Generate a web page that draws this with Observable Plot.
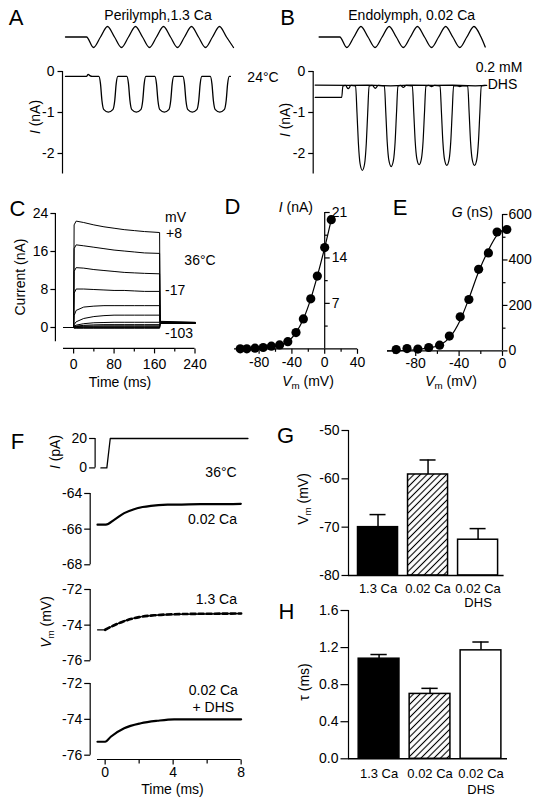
<!DOCTYPE html>
<html>
<head>
<meta charset="utf-8">
<script src="https://cdn.jsdelivr.net/npm/d3@7"></script>
<script src="https://cdn.jsdelivr.net/npm/@observablehq/plot@0.6"></script>
<style>
  body { margin: 0; background: #fff; }
  #fig { position: relative; width: 540px; height: 803px; overflow: hidden; background: #fff;
         font-family: "Liberation Sans", Arial, sans-serif; color: #000; }
  .lbl { position: absolute; white-space: nowrap; line-height: 1; }
  .lbl sub { font-size: 70%; vertical-align: baseline; position: relative; top: 0.3em; line-height: 0; }
</style>
</head>
<body>
<svg width="0" height="0" style="position:absolute">
  <defs>
    <pattern id="hatch" patternUnits="userSpaceOnUse" width="4.6" height="4.6" patternTransform="rotate(45)">
      <rect width="4.6" height="4.6" fill="white"></rect>
      <line x1="2.3" y1="0" x2="2.3" y2="4.6" stroke="black" stroke-width="1.1"></line>
    </pattern>
  </defs>
</svg>
<div id="fig"></div>
<script>
// ---------------- DATA ----------------
// Panel A / B : sinusoidal stimulus (time in stimulus cycles)
const stimT = [-0.75, 0, 0.25, 0.5, 0.75, 1, 1.25, 1.5, 1.75, 2, 2.25, 2.5, 2.75, 3, 3.25, 3.5, 3.75, 4, 4.25, 4.5, 4.75, 5, 5.25];
const stimV = [0, 0, -1, 0, 1, 0, -1, 0, 1, 0, -1, 0, 1, 0, -1, 0, 1, 0, -1, 0, 1, 0, -1];
const stimTB = [-0.73, 0, 0.25, 0.5, 0.75, 1, 1.25, 1.5, 1.75, 2, 2.25, 2.5, 2.75, 3, 3.25, 3.5, 3.75, 4, 4.25, 4.5, 4.75, 5, 5.15];
const stimVB = [0, 0, -1, 0, 1, 0, -1, 0, 1, 0, -1, 0, 1, 0, -1, 0, 1, 0, -1, 0, 1, 0, -0.95];
// Panel A: transducer current (nA), perilymph
const currA = [
 [-0.75,-0.12],[0,-0.12],[0.06,-0.07],[0.12,-0.1],[0.2,-0.12],
 [0.44,-0.12],[0.5,-0.3],[0.55,-0.7],[0.62,-0.93],[0.78,-0.99],[0.94,-0.93],[1.01,-0.7],[1.06,-0.3],[1.12,-0.12],
 [1.44,-0.12],[1.5,-0.3],[1.55,-0.7],[1.62,-0.93],[1.78,-0.99],[1.94,-0.93],[2.01,-0.7],[2.06,-0.3],[2.12,-0.12],
 [2.44,-0.12],[2.5,-0.3],[2.55,-0.7],[2.62,-0.93],[2.78,-0.99],[2.94,-0.93],[3.01,-0.7],[3.06,-0.3],[3.12,-0.12],
 [3.44,-0.12],[3.5,-0.3],[3.55,-0.7],[3.62,-0.93],[3.78,-0.99],[3.94,-0.93],[4.01,-0.7],[4.06,-0.3],[4.12,-0.12],
 [4.42,-0.12],[4.48,-0.3],[4.53,-0.7],[4.6,-0.93],[4.76,-0.99],[4.92,-0.93],[4.99,-0.7],[5.04,-0.3],[5.1,-0.12],[5.14,-0.12]
];
// Panel B: endolymph control current and with 0.2 mM DHS (nA)
const ctrlB = [
 [-0.87,-0.63],[0.07,-0.63],[0.11,-0.36],[0.2,-0.34],[0.3,-0.42],[0.4,-0.34],
 [0.56,-0.35],[0.61,-1.0],[0.66,-1.75],[0.72,-2.25],[0.8,-2.41],[0.88,-2.25],[0.94,-1.75],[0.99,-1.0],[1.04,-0.35],
 [1.15,-0.34],[1.26,-0.41],[1.36,-0.34],
 [1.58,-0.35],[1.63,-1.0],[1.68,-1.72],[1.74,-2.17],[1.82,-2.32],[1.9,-2.17],[1.96,-1.72],[2.01,-1.0],[2.06,-0.35],
 [2.15,-0.34],[2.25,-0.39],[2.35,-0.34],
 [2.57,-0.35],[2.62,-1.0],[2.67,-1.7],[2.73,-2.13],[2.81,-2.27],[2.89,-2.13],[2.95,-1.7],[3.0,-1.0],[3.05,-0.35],
 [3.15,-0.34],[3.25,-0.37],[3.35,-0.34],
 [3.55,-0.35],[3.6,-1.0],[3.65,-1.71],[3.71,-2.15],[3.79,-2.29],[3.87,-2.15],[3.93,-1.71],[3.98,-1.0],[4.03,-0.35],
 [4.15,-0.35],[4.25,-0.37],[4.35,-0.35],
 [4.53,-0.35],[4.58,-1.0],[4.63,-1.71],[4.69,-2.15],[4.77,-2.29],[4.85,-2.15],[4.91,-1.71],[4.96,-1.0],[5.01,-0.35],
 [5.15,-0.34]
];
const dhsB = [[-0.87,-0.33],[0.3,-0.34],[1.0,-0.33],[1.8,-0.35],[2.5,-0.33],[3.3,-0.34],[4.0,-0.33],[4.8,-0.35],[5.2,-0.34]];
const ticksAB = [0, -1, -2];

// Panel C: voltage-step currents
const cVolt = [8, 0, -9, -17, -26, -35, -45, -55, -65, -75, -85, -95, -103];
const cT = [-20, 0, 1, 5, 20, 40, 60, 80, 100, 120, 140, 170, 171, 240];
const cI = [
 [0,0,21.6,22.4,22.1,21.6,21.2,20.9,20.6,20.4,20.2,20.0,1.3,1.1],
 [0,0,16.6,17.4,17.2,16.9,16.6,16.3,16.1,15.9,15.7,15.6,1.2,1.05],
 [0,0,11.8,12.6,12.5,12.2,12.0,11.8,11.6,11.5,11.4,11.3,1.1,1.0],
 [0,0,7.2,8.1,8.1,8.0,7.9,7.8,7.8,7.7,7.6,7.6,1.05,1.0],
 [0,0,2.5,3.6,4.3,4.5,4.6,4.6,4.6,4.6,4.6,4.6,1.0,0.95],
 [0,0,0.6,1.2,1.9,2.3,2.5,2.6,2.6,2.6,2.6,2.6,0.95,0.95],
 [0,0,0.3,0.5,0.8,1.0,1.05,1.1,1.1,1.1,1.1,1.1,0.9,0.9],
 [0,0,0.2,0.3,0.45,0.55,0.6,0.6,0.6,0.6,0.6,0.6,0.9,0.9],
 [0,0,0.1,0.2,0.3,0.32,0.35,0.35,0.35,0.35,0.35,0.35,0.85,0.9],
 [0,0,0.05,0.1,0.15,0.15,0.15,0.15,0.15,0.15,0.15,0.15,0.85,0.9],
 [0,0,0,0,0.05,0.05,0.05,0.05,0.05,0.05,0.05,0.05,0.85,0.9],
 [0,0,-0.05,-0.05,-0.05,-0.05,-0.05,-0.05,-0.05,-0.05,-0.05,-0.05,0.85,0.9],
 [0,0,-0.15,-0.15,-0.15,-0.15,-0.15,-0.15,-0.15,-0.15,-0.15,-0.15,0.85,0.9]
];
const cTicksY = [0, 8, 16, 24];
const cTicksX = [0, 80, 160, 240];
const cMinorX = [40, 120, 200];

// Panel D: I-V relation
const dV = [-103, -95, -85, -75, -65, -55, -45, -35, -26, -17, -9, 0, 8];
const dI = [0, 0, 0.1, 0.2, 0.4, 0.6, 1.1, 2.5, 4.6, 7.7, 11.2, 15.6, 19.9];
const dTicksY = [7, 14, 21];
const dMinorY = [3.5, 10.5, 17.5];
const dTicksX = [-80, -40, 0, 40];
const dMinorX = [-60, -20, 20];

// Panel E: conductance-voltage relation and Boltzmann fit
const eV = [-98, -88, -78, -68, -58, -49, -39, -31, -22, -13, -5, 4];
const eG = [6, 10, 8, 15, 25, 65, 150, 226, 359, 431, 523, 534];
const fitV = [-106, -80, -68, -58, -49, -39, -31, -22, -13, -5, 0];
const fitG = [0, 5, 13, 25, 57, 135, 230, 348, 443, 509, 531];
const eTicksY = [0, 200, 400, 600];
const eMinorY = [100, 300, 500];
const eTicksX = [-80, -40, 0];
const eMinorX = [-100, -60, -20];

// Panel F: current step and voltage responses (time in ms)
const fStim = [[-0.25,0],[0.1,0],[0.3,20],[8.4,20]];
const fLowCa = [[-0.45,-65.75],[0.04,-65.75],[0.53,-65.48],[1.12,-65.1],[1.7,-64.88],[2.2,-64.76],[2.69,-64.69],[3.67,-64.63],[4.5,-64.62],[5.6,-64.6],[6.5,-64.6],[7.98,-64.58]];
const fHighCa = [[-0.45,-74.26],[0,-74.26],[0.33,-74.1],[1.12,-73.76],[2.1,-73.53],[3.67,-73.42],[5.63,-73.38],[7.98,-73.35]];
const fHighCaFit = [[0,-74.26],[0.5,-74.02],[1,-73.82],[1.5,-73.66],[2,-73.55],[3,-73.44],[4,-73.39],[5,-73.37],[6,-73.36],[8,-73.35]];
const fDHS = [[-0.45,-75.25],[0,-75.25],[0.33,-74.97],[1.12,-74.5],[2.1,-74.22],[3.08,-74.08],[4.06,-74.0],[6.0,-74.0],[8,-74.0]];
const fStimTicks = [0, 20];
const f1Ticks = [-64, -66, -68];
const f2Ticks = [-72, -74, -76];
const fTimeTicks = [0, 4, 8];
const fTimeMinor = [2, 6];

// Panels G / H: bar charts
const barLine1 = ["1.3 Ca", "0.02 Ca", "0.02 Ca"];
const barLine2 = ["", "", "DHS"];
const barFill = ["black", "url(#hatch)", "white"];
const gVm = [-70.0, -59.1, -72.6];
const gErr = [2.6, 3.0, 2.3];
const gTicks = [-50, -60, -70, -80];
const hTau = [1.08, 0.70, 1.17];
const hErr = [0.045, 0.06, 0.09];
const hTicks = [0, 0.4, 0.8, 1.2, 1.6];

// ---------------- HELPERS ----------------
const fig = document.getElementById("fig");
const K = "#000";
const FONT = '"Liberation Sans", Arial, sans-serif';
const sym = (dx, dy) => ({draw(c) { c.moveTo(0, 0); c.lineTo(dx, dy); }});
const pts = (xs, ys) => xs.map((x, i) => [x, ys[i]]);

function panel(xd, xr, yd, yr, marks) {
  const M = 70;
  const [x0, x1] = xr, [yt, yb] = yr;
  const svg = Plot.plot({
    width: x1 - x0 + 2 * M, height: yb - yt + 2 * M,
    marginLeft: M, marginRight: M, marginTop: M, marginBottom: M,
    x: {domain: xd, axis: null},
    y: {domain: yd, axis: null},
    style: {position: "absolute", left: (x0 - M) + "px", top: (yt - M) + "px",
            background: "transparent", overflow: "visible", fontFamily: FONT,
            fontSize: "14px", color: "#000", maxWidth: "none"},
    marks
  });
  fig.appendChild(svg);
}

function yAxis(at, lo, hi, ticks, o = {}) {
  const len = o.len ?? -5, sw = o.sw ?? 1.2;
  const m = [
    Plot.ruleX([at], {y1: lo, y2: hi, stroke: K, strokeWidth: sw}),
    Plot.dot(ticks, {x: at, y: d => d, symbol: sym(len, 0), stroke: K, fill: "none", strokeWidth: sw})
  ];
  if (o.minor) m.push(Plot.dot(o.minor, {x: at, y: d => d, symbol: sym(o.mlen ?? Math.round(len * 0.6), 0), stroke: K, fill: "none", strokeWidth: sw}));
  if (o.labels !== false) m.push(Plot.text(ticks, {x: at, y: d => d, text: o.fmt ?? (d => String(d)),
      dx: o.dx ?? (len < 0 ? len - 3 : len + 3), textAnchor: len < 0 ? "end" : "start", fontSize: o.fs ?? 14}));
  return m;
}

function xAxis(at, lo, hi, ticks, o = {}) {
  const len = o.len ?? 5, sw = o.sw ?? 1.2;
  const m = [
    Plot.ruleY([at], {x1: lo, x2: hi, stroke: K, strokeWidth: sw}),
    Plot.dot(ticks, {x: d => d, y: at, symbol: sym(0, len), stroke: K, fill: "none", strokeWidth: sw})
  ];
  if (o.minor) m.push(Plot.dot(o.minor, {x: d => d, y: at, symbol: sym(0, o.mlen ?? 3), stroke: K, fill: "none", strokeWidth: sw}));
  m.push(Plot.text(ticks, {x: d => d, y: at, text: o.fmt ?? (d => String(d)), dy: o.dy ?? 14, fontSize: o.fs ?? 14}));
  return m;
}

function lab(html, x, y, o = {}) {
  const d = document.createElement("div");
  d.className = "lbl";
  d.innerHTML = html;
  d.style.left = x + "px";
  d.style.top = y + "px";
  d.style.fontSize = (o.size ?? 14) + "px";
  const a = o.anchor ?? "middle";
  const tx = a === "start" ? "0" : a === "end" ? "-100%" : "-50%";
  d.style.transform = `translate(${tx},-50%)` + (o.rot ? " rotate(-90deg)" : "");
  fig.appendChild(d);
}

// ---------------- PANEL A ----------------
panel([-1, 6], [58, 254], [-1, 1], [26, 47], [
  Plot.line(pts(stimT, stimV), {x: d => d[0], y: d => d[1], curve: "monotone-x", stroke: K, strokeWidth: 1.3})
]);
panel([-1, 6], [58, 254], [-2.5, 0], [71, 173.5], [
  ...yAxis(-0.857, -2.5, 0, ticksAB, {len: -5, dx: -8}),
  Plot.line(currA, {x: d => d[0], y: d => d[1], curve: "monotone-x", stroke: K, strokeWidth: 1.3})
]);

// ---------------- PANEL B ----------------
panel([-1, 6], [311.25, 509], [-1, 1], [26, 47], [
  Plot.line(pts(stimTB, stimVB), {x: d => d[0], y: d => d[1], curve: "monotone-x", stroke: K, strokeWidth: 1.3})
]);
panel([-1, 6], [311.25, 509], [-2.5, 0], [71, 173.5], [
  ...yAxis(-0.94, -2.5, 0, ticksAB, {len: -5, dx: -8}),
  Plot.line(dhsB, {x: d => d[0], y: d => d[1], stroke: K, strokeWidth: 1.3}),
  Plot.line(ctrlB, {x: d => d[0], y: d => d[1], curve: "monotone-x", stroke: K, strokeWidth: 1.2})
]);

// ---------------- PANEL C ----------------
const cRows = cVolt.flatMap((v, i) => cT.map((t, j) => ({v, t, I: cI[i][j]})));
panel([-20, 240], [63.2, 194.7], [-3, 24], [213, 341.25], [
  ...yAxis(-36, -3, 24, cTicksY, {len: -5, dx: -7}),
  ...xAxis(-4.4, -20, 240, cTicksX, {len: 5, minor: cMinorX, mlen: 3, dy: 16}),
  Plot.line(cRows, {x: "t", y: "I", z: "v", stroke: K, strokeWidth: 1})
]);

// ---------------- PANEL D ----------------
panel([-110, 40], [233.7, 356.7], [0, 21], [211.7, 348], [
  ...yAxis(0, 0, 21, dTicksY, {len: 5, minor: dMinorY, mlen: 3, dx: 7}),
  ...xAxis(0, -110, 40, dTicksX, {len: 5, minor: dMinorX, mlen: 3, dy: 14}),
  Plot.line(pts(dV, dI), {x: d => d[0], y: d => d[1], curve: "monotone-x", stroke: K, strokeWidth: 1.2}),
  Plot.dot(pts(dV, dI), {x: d => d[0], y: d => d[1], r: 4.6, fill: K})
]);

// ---------------- PANEL E ----------------
panel([-106, 0], [386.7, 501.7], [0, 600], [214.3, 350.7], [
  ...yAxis(0, 0, 600, eTicksY, {len: 5, minor: eMinorY, mlen: 3, dx: 6}),
  ...xAxis(0, -106, 0, eTicksX, {len: 5, minor: eMinorX, mlen: 3, dy: 13}),
  Plot.line(pts(fitV, fitG), {x: d => d[0], y: d => d[1], curve: "monotone-x", stroke: K, strokeWidth: 1.2}),
  Plot.dot(pts(eV, eG), {x: d => d[0], y: d => d[1], r: 4.6, fill: K})
]);

// ---------------- PANEL F ----------------
panel([-0.45, 8], [96.65, 240.3], [0, 20], [438.3, 467.7], [
  ...yAxis(-0.59, 0, 20, fStimTicks, {len: -6, dx: -8}),
  Plot.line(fStim, {x: d => d[0], y: d => d[1], stroke: K, strokeWidth: 1.3})
]);
panel([-0.45, 8], [96.65, 240.3], [-68, -64], [492.7, 564], [
  ...yAxis(-0.88, -68, -64, f1Ticks, {len: -6, dx: -8}),
  Plot.line(fLowCa, {x: d => d[0], y: d => d[1], curve: "monotone-x", stroke: K, strokeWidth: 2.2})
]);
panel([-0.45, 8], [96.65, 240.3], [-76, -72], [588.7, 660], [
  ...yAxis(-0.88, -76, -72, f2Ticks, {len: -6, dx: -8}),
  Plot.line(fHighCa, {x: d => d[0], y: d => d[1], curve: "monotone-x", stroke: K, strokeWidth: 1.2}),
  Plot.line(fHighCaFit, {x: d => d[0], y: d => d[1], curve: "monotone-x", stroke: K, strokeWidth: 2.6, strokeDasharray: "5,3"})
]);
panel([-0.45, 8], [96.65, 240.3], [-76, -72], [683.3, 755], [
  ...yAxis(-0.88, -76, -72, f2Ticks, {len: -6, dx: -8}),
  ...xAxis(-76.24, -0.45, 8, fTimeTicks, {len: 5, minor: fTimeMinor, mlen: 4, dy: 13}),
  Plot.line(fDHS, {x: d => d[0], y: d => d[1], curve: "monotone-x", stroke: K, strokeWidth: 2.2})
]);

// ---------------- PANELS G / H ----------------
function bars(vals, errs, base, capHalf) {
  const rows = vals.map((v, i) => ({i, v, e: errs[i], f: barFill[i]}));
  return [
    Plot.ruleX(rows, {x: "i", y1: d => d.v, y2: d => d.v + d.e, stroke: K, strokeWidth: 1.5}),
    Plot.ruleY(rows, {y: d => d.v + d.e, x1: d => d.i - capHalf, x2: d => d.i + capHalf, stroke: K, strokeWidth: 1.5}),
    ...rows.map(r => Plot.rectY([r], {x1: d => d.i - 0.4, x2: d => d.i + 0.4, y1: base, y2: d => d.v, fill: r.f, stroke: K, strokeWidth: 1.5}))
  ];
}
panel([-0.59, 2.52], [347.7, 503.3], [-80, -50], [430, 575], [
  ...bars(gVm, gErr, -80, 0.16),
  ...yAxis(-0.59, -80, -50, gTicks, {len: -7, dx: -9}),
  Plot.ruleY([-80], {x1: -0.59, x2: 2.52, stroke: K, strokeWidth: 1.5}),
  Plot.text(barLine1, {x: (d, i) => i, y: -80, text: d => d, dy: 13, fontSize: 13}),
  Plot.text(barLine2, {x: (d, i) => i, y: -80, text: d => d, dy: 27, fontSize: 13})
]);
panel([-0.6, 2.52], [347.7, 506.7], [0, 1.6], [610, 758.3], [
  ...bars(hTau, hErr, 0, 0.16),
  ...yAxis(-0.6, 0, 1.6, hTicks, {len: -8, dx: -10, fmt: d => d.toFixed(1)}),
  Plot.ruleY([0], {x1: -0.6, x2: 2.52, stroke: K, strokeWidth: 1.5}),
  Plot.text(barLine1, {x: (d, i) => i, y: 0, text: d => d, dy: 15, fontSize: 13}),
  Plot.text(barLine2, {x: (d, i) => i, y: 0, text: d => d, dy: 31, fontSize: 13})
]);

// ---------------- TEXT LABELS ----------------
const L = 22;
lab("A", 16, 18, {size: L});
lab("B", 287.5, 18, {size: L});
lab("C", 17.5, 209, {size: L});
lab("D", 232.5, 206.5, {size: L});
lab("E", 400, 207.5, {size: L});
lab("F", 17.5, 441.5, {size: L});
lab("G", 285.5, 436, {size: L});
lab("H", 286.5, 612, {size: L});

lab("Perilymph,1.3 Ca", 158, 15, {size: 14});
lab("Endolymph, 0.02 Ca", 411.7, 15, {size: 14});
lab("24°C", 263, 77, {size: 14});
lab("0.2 mM", 499, 67, {size: 14});
lab("DHS", 502.5, 83.5, {size: 14});
lab("<i>I</i> (nA)", 35, 117, {size: 14, rot: true});
lab("<i>I</i> (nA)", 285, 120, {size: 14, rot: true});

lab("Current (nA)", 20, 277, {size: 14, rot: true});
lab("Time (ms)", 120, 382, {size: 14});
lab("mV", 165, 217, {size: 14, anchor: "start"});
lab("+8", 166, 233, {size: 14, anchor: "start"});
lab("-17", 165, 290, {size: 14, anchor: "start"});
lab("-103", 165, 333, {size: 14, anchor: "start"});
lab("36°C", 200, 260, {size: 14});

lab("<i>I</i> (nA)", 313, 207, {size: 14, anchor: "end"});
lab("<i>V</i><sub>m</sub> (mV)", 308, 381, {size: 14});
lab("<i>G</i> (nS)", 493, 212, {size: 14, anchor: "end"});
lab("<i>V</i><sub>m</sub> (mV)", 451, 381, {size: 14});

lab("<i>I</i> (pA)", 55, 452, {size: 14, rot: true});
lab("36°C", 221, 472, {size: 14});
lab("0.02 Ca", 237, 519, {size: 14, anchor: "end"});
lab("1.3 Ca", 237, 599, {size: 14, anchor: "end"});
lab("0.02 Ca", 213.3, 690, {size: 14});
lab("+ DHS", 213.3, 707, {size: 14});
lab("<i>V</i><sub>m</sub> (mV)", 46, 622, {size: 14, rot: true});
lab("Time (ms)", 172.5, 789, {size: 14});

lab("V<sub>m</sub> (mV)", 303, 499, {size: 14, rot: true});
lab("τ (ms)", 304, 682, {size: 14, rot: true});
</script>
</body>
</html>
